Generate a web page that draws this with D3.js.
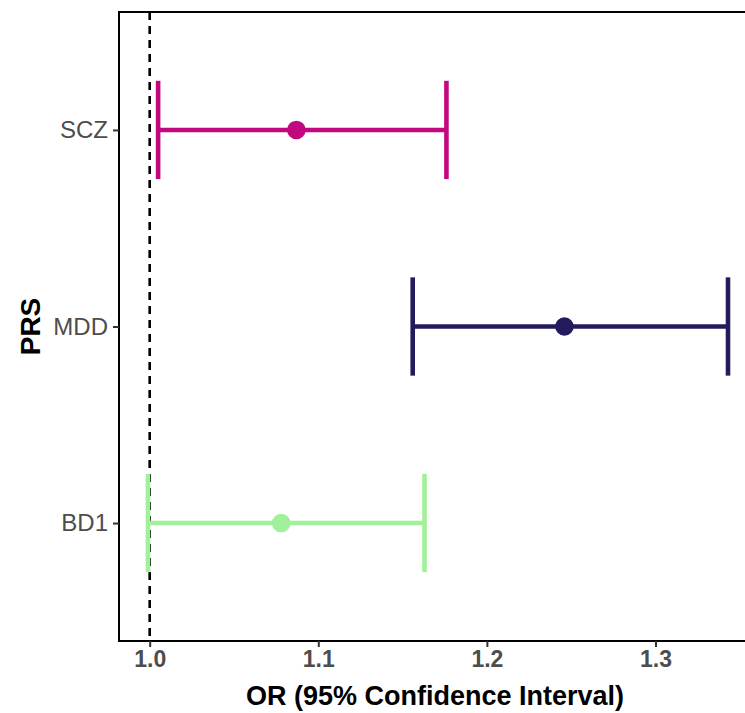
<!DOCTYPE html>
<html>
<head>
<meta charset="utf-8">
<script src="https://cdn.jsdelivr.net/npm/d3@7"></script>
<style>
  html, body { margin: 0; padding: 0; background: #fff; }
  svg { display: block; }
  text { font-family: "Liberation Sans", Arial, Helvetica, sans-serif; }
</style>
</head>
<body>
<svg id="chart" width="745" height="713"></svg>
<script>
// ---- Data ----
const categories = ["SCZ", "MDD", "BD1"];
const orValues   = [1.087, 1.246, 1.078];
const lowerCI    = [1.005, 1.156, 0.999];
const upperCI    = [1.176, 1.343, 1.163];
const colors     = ["#C2087F", "#221B5C", "#A1F09A"];
const xTicks     = [1.0, 1.1, 1.2, 1.3];
const refValue   = 1.0;

// ---- Layout ----
const panel = { left: 119, top: 12, bottom: 641, right: 757 };

const svg = d3.select("#chart");

const lo = d3.min(lowerCI), hi = d3.max(upperCI);
const pad = (hi - lo) * 0.05;
const x = d3.scaleLinear().domain([lo - pad, hi + pad]).range([panel.left, panel.right]);

const nCat = categories.length;
const unit = (panel.bottom - panel.top) / (nCat - 1 + 1.2);
const y = d3.scalePoint().domain(categories)
  .range([panel.top + 0.6 * unit, panel.bottom - 0.6 * unit]).padding(0);

const data = categories.map((c, i) => ({ cat: c, or: orValues[i], lo: lowerCI[i], hi: upperCI[i], col: colors[i] }));

// panel border
svg.append("rect")
  .attr("x", panel.left).attr("y", panel.top)
  .attr("width", panel.right - panel.left).attr("height", panel.bottom - panel.top)
  .attr("fill", "none").attr("stroke", "#000").attr("stroke-width", 2);

// reference line
svg.append("line")
  .attr("x1", x(refValue)).attr("x2", x(refValue))
  .attr("y1", panel.top).attr("y2", panel.bottom)
  .attr("stroke", "#000").attr("stroke-width", 2.6)
  .attr("stroke-dasharray", "8,6");

const capHalf = unit * 0.25;
const lw = 4.6;

const rows = svg.append("g").selectAll("g.row").data(data).join("g").attr("class", "row");

rows.append("line")
  .attr("x1", d => x(d.lo)).attr("x2", d => x(d.hi))
  .attr("y1", d => y(d.cat)).attr("y2", d => y(d.cat))
  .attr("stroke", d => d.col).attr("stroke-width", lw);
rows.append("line")
  .attr("x1", d => x(d.lo)).attr("x2", d => x(d.lo))
  .attr("y1", d => y(d.cat) - capHalf).attr("y2", d => y(d.cat) + capHalf)
  .attr("stroke", d => d.col).attr("stroke-width", lw);
rows.append("line")
  .attr("x1", d => x(d.hi)).attr("x2", d => x(d.hi))
  .attr("y1", d => y(d.cat) - capHalf).attr("y2", d => y(d.cat) + capHalf)
  .attr("stroke", d => d.col).attr("stroke-width", lw);
rows.append("circle")
  .attr("cx", d => x(d.or)).attr("cy", d => y(d.cat)).attr("r", 9.3)
  .attr("fill", d => d.col);

// x axis
const xAxis = svg.append("g")
  .attr("transform", `translate(0,${panel.bottom})`)
  .call(d3.axisBottom(x).tickValues(xTicks).tickFormat(d3.format(".1f")).tickSize(6).tickPadding(4));
xAxis.select(".domain").remove();
xAxis.selectAll(".tick line").attr("stroke", "#333").attr("stroke-width", 2);
xAxis.selectAll(".tick text")
  .attr("fill", "#4D4D4D").attr("font-size", 23).attr("font-weight", "bold")
  .attr("font-family", "Liberation Sans, Arial, sans-serif");

// y axis
const yAxis = svg.append("g")
  .attr("transform", `translate(${panel.left},0)`)
  .call(d3.axisLeft(y).tickSize(6).tickPadding(5));
yAxis.select(".domain").remove();
yAxis.selectAll(".tick line").attr("stroke", "#333").attr("stroke-width", 2);
yAxis.selectAll(".tick text")
  .attr("fill", "#4D4D4D").attr("font-size", 24)
  .attr("font-family", "Liberation Sans, Arial, sans-serif");

// axis titles
svg.append("text")
  .attr("x", 435).attr("y", 705)
  .attr("text-anchor", "middle").attr("font-size", 27).attr("font-weight", "bold")
  .attr("fill", "#000").text("OR (95% Confidence Interval)");

svg.append("text")
  .attr("transform", `translate(40,${(panel.top + panel.bottom) / 2}) rotate(-90)`)
  .attr("text-anchor", "middle").attr("font-size", 28).attr("font-weight", "bold")
  .attr("fill", "#000").text("PRS");
</script>
</body>
</html>
